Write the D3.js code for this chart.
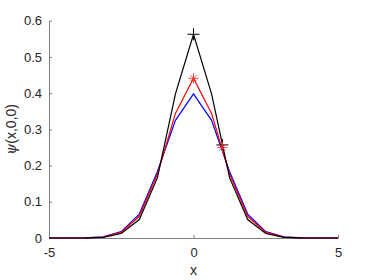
<!DOCTYPE html>
<html>
<head>
<meta charset="utf-8">
<script src="https://cdn.jsdelivr.net/npm/d3@7"></script>
<style>
  body { margin: 0; background: #fff; }
  text { font-family: "Liberation Sans", Arial, sans-serif; fill: #262626; }
</style>
</head>
<body>
<script>
// grid points (step 0.625)
const xs = [-5, -4.375, -3.75, -3.125, -2.5, -1.875, -1.25, -0.625, 0, 0.625, 1.25, 1.875, 2.5, 3.125, 3.75, 4.375, 5];
// values
const blueVals  = [0, 0.0000, 0.0004, 0.0030, 0.0175, 0.066, 0.183, 0.325, 0.398, 0.325, 0.183, 0.066, 0.0175, 0.0030, 0.0004, 0.0000, 0];
const redVals   = [0, 0.0000, 0.0003, 0.0025, 0.0155, 0.060, 0.176, 0.344, 0.441, 0.344, 0.176, 0.060, 0.0155, 0.0025, 0.0003, 0.0000, 0];
const blackVals = [0, 0.0000, 0.0002, 0.0018, 0.0125, 0.051, 0.166, 0.398, 0.5625, 0.398, 0.166, 0.051, 0.0125, 0.0018, 0.0002, 0.0000, 0];
// marker points
const blackMarks = [[0, 0.5625], [1, 0.257]];
const redMarks = [[0, 0.441], [1, 0.25]];
const xTicks = [-5, 0, 5];
const yTicks = [0, 0.1, 0.2, 0.3, 0.4, 0.5, 0.6];

const width = 374, height = 280;
const mLeft = 49, mRight = 338, mTop = 20.7, mBottom = 238;

const svg = d3.select("body").append("svg")
  .attr("width", width)
  .attr("height", height);

const x = d3.scaleLinear().domain([-5, 5]).range([mLeft, mRight]);
const y = d3.scaleLinear().domain([0, 0.6]).range([mBottom, mTop]);

// axes (MATLAB style, ticks inside)
const xAxis = svg.append("g")
  .attr("transform", `translate(0,${mBottom})`)
  .call(d3.axisBottom(x).tickValues(xTicks).tickFormat(d => String(d)).tickSizeInner(-3).tickSizeOuter(0).tickPadding(10));
const yAxis = svg.append("g")
  .attr("transform", `translate(${mLeft},0)`)
  .call(d3.axisLeft(y).tickValues(yTicks).tickFormat(d => d === 0 ? "0" : d3.format(".1f")(d)).tickSizeInner(-3).tickSizeOuter(0).tickPadding(7));

[xAxis, yAxis].forEach(g => {
  g.select(".domain").attr("stroke", "#808080").attr("stroke-width", 1);
  g.selectAll(".tick line").attr("stroke", "#808080");
  g.selectAll(".tick text").attr("font-size", 13).attr("fill", "#262626")
    .attr("font-family", "Liberation Sans, Arial, sans-serif");
});

// lines
const line = d3.line()
  .x((d, i) => x(xs[i]))
  .y(d => y(d));

const series = [
  { vals: blueVals, color: "#0000ff" },
  { vals: redVals, color: "#ff0000" },
  { vals: blackVals, color: "#000000" }
];

svg.selectAll("path.series")
  .data(series)
  .enter()
  .append("path")
  .attr("class", "series")
  .attr("d", d => line(d.vals))
  .attr("fill", "none")
  .attr("stroke", d => d.color)
  .attr("stroke-width", 1.2)
  .attr("stroke-linejoin", "miter");

// markers: black '+', red '*'
const m = 6;
svg.selectAll("path.bplus")
  .data(blackMarks)
  .enter()
  .append("path")
  .attr("class", "bplus")
  .attr("d", d => `M${x(d[0]) - m},${y(d[1])}H${x(d[0]) + m}M${x(d[0])},${y(d[1]) - m}V${y(d[1]) + m}`)
  .attr("stroke", "#000")
  .attr("stroke-width", 1);

const r = 5, rd = r * 0.6;
svg.selectAll("path.rstar")
  .data(redMarks)
  .enter()
  .append("path")
  .attr("class", "rstar")
  .attr("d", d => {
    const cx = x(d[0]), cy = y(d[1]);
    return `M${cx - r},${cy}H${cx + r}M${cx},${cy - r}V${cy + r}` +
      `M${cx - rd},${cy - rd}L${cx + rd},${cy + rd}M${cx - rd},${cy + rd}L${cx + rd},${cy - rd}`;
  })
  .attr("stroke", "#ff3030")
  .attr("stroke-width", 0.9);

// labels
svg.append("text")
  .attr("x", (mLeft + mRight) / 2)
  .attr("y", 275)
  .attr("text-anchor", "middle")
  .attr("font-size", 14)
  .text("x");

const yl = svg.append("text")
  .attr("transform", `translate(16,${(mTop + mBottom) / 2}) rotate(-90)`)
  .attr("text-anchor", "middle")
  .attr("font-size", 14);
yl.append("tspan").attr("font-style", "italic").attr("font-family", "DejaVu Serif, serif").text("ψ");
yl.append("tspan").text("(x,0,0)");
</script>
</body>
</html>
